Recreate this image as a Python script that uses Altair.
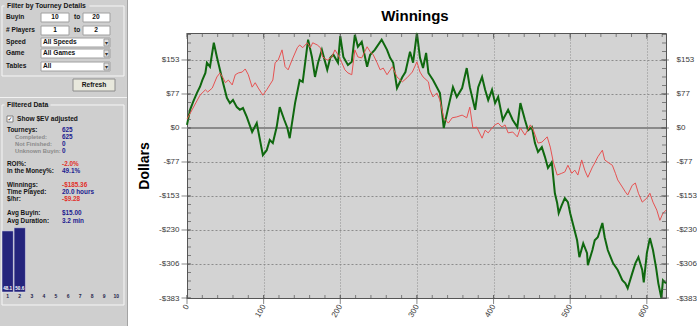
import altair as alt
import pandas as pd

# ---------------- values ----------------
green_t = [0, 4, 8, 13, 17, 20, 24, 26, 30, 35, 39, 43, 47, 52, 56, 60, 65, 69, 73, 78,
           85, 91, 99, 104, 108, 112, 117, 121, 127, 131, 134, 141, 147, 151, 158, 163, 167, 171, 176, 183,
           187, 191, 197, 200, 204, 210, 215, 219, 223, 228, 235, 239, 245, 254, 261, 265, 269, 274, 281, 285,
           291, 295, 300, 304, 308, 312, 315, 321, 326, 330, 335, 341, 347, 352, 359, 365, 369, 376, 380, 385,
           389, 393, 398, 402, 406, 412, 419, 425, 431, 435, 441, 445, 450, 454, 458, 463, 467, 471, 476, 480,
           483, 485, 489, 493, 497, 500, 504, 509, 512, 517, 522, 523, 529, 532, 536, 542, 545, 549, 556, 562,
           568, 572, 575, 581, 585, 589, 594, 596, 600, 604, 608, 612, 615, 619, 621, 625]
green_v = [7, 41, 59, 79, 93, 108, 124, 147, 138, 192, 160, 131, 102, 68, 56, 63, 47, 41, 45, 25,
           -9, 11, -61, -50, -27, -34, 2, 47, 18, 0, -23, 56, 108, 104, 199, 160, 115, 147, 176, 131,
           158, 165, 147, 207, 160, 142, 149, 210, 183, 194, 138, 165, 176, 199, 176, 158, 147, 90, 115, 126,
           172, 147, 214, 158, 135, 169, 124, 108, 92, 79, 0, 47, 92, 70, 90, 135, 92, 41, 92, 115,
           86, 63, 86, 56, 70, 18, 41, 18, 2, 56, 18, -5, 2, -34, -54, -43, -65, -90, -77, -147,
           -169, -192, -174, -158, -167, -192, -219, -253, -291, -260, -282, -309, -275, -253, -246, -214, -246, -275, -305, -320,
           -343, -350, -361, -327, -305, -291, -320, -348, -282, -248, -275, -314, -350, -383, -343, -350]

red_t = [0, 17, 24, 27, 33, 39, 43, 47, 50, 54, 59, 63, 67, 72, 76, 80, 85, 89, 93, 99,
         104, 108, 112, 115, 119, 124, 128, 132, 137, 144, 147, 151, 157, 161, 164, 170, 174, 177, 183, 189,
         193, 197, 202, 206, 210, 215, 219, 223, 228, 235, 239, 243, 248, 252, 256, 261, 268, 274, 281, 287,
         294, 300, 304, 308, 315, 317, 321, 326, 330, 335, 341, 346, 352, 359, 365, 369, 373, 378, 385, 389,
         393, 398, 402, 406, 411, 415, 419, 425, 431, 435, 441, 448, 452, 458, 463, 470, 474, 478, 483, 489,
         493, 497, 502, 506, 510, 515, 519, 523, 529, 532, 536, 542, 545, 549, 555, 559, 562, 568, 572, 575,
         581, 585, 589, 594, 600, 604, 608, 613, 617, 621, 625]
red_v = [20, 74, 86, 81, 90, 115, 124, 113, 102, 108, 97, 120, 124, 126, 133, 120, 92, 102, 90, 74,
         86, 97, 108, 147, 153, 176, 138, 131, 153, 181, 187, 181, 192, 181, 192, 187, 181, 160, 153, 160,
         176, 165, 147, 131, 124, 120, 176, 160, 158, 183, 172, 165, 147, 131, 135, 120, 138, 115, 104, 113,
         126, 149, 126, 115, 104, 86, 70, 79, 63, 23, 11, 23, 25, 29, 23, 47, 0, 2, -23, -5,
         -11, 0, 7, 11, 2, 7, -11, -9, -20, 0, -16, 7, -5, -34, -32, -20, -43, -77, -106, -102,
         -99, -84, -102, -95, -106, -72, -95, -111, -88, -79, -65, -50, -72, -77, -84, -102, -117, -133, -144, -151,
         -129, -124, -147, -167, -158, -147, -167, -185, -208, -192, -185.36]

y_tick_values = [-383, -306.4, -229.8, -153.2, -76.6, 0, 76.6, 153.2]
x_tick_values = [0, 100, 200, 300, 400, 500, 600]
x_minor_values = list(range(0, 625, 20))
y_minor_values = [round(-383 + 19.15 * k, 2) for k in range(32)]

finish_places = [str(i) for i in range(1, 11)]
finish_bar_places = ['1', '2']
finish_bar_pct = [48.1, 50.6]

filter_labels = ['Buyin', '# Players', 'Speed', 'Game', 'Tables']
input_values = ['10', '20', '1', '2']
dropdown_values = ['All Speeds', 'All Games', 'All']
stat_labels = ['Tourneys:', 'Completed:', 'Not Finished:', 'Unknown Buyin:', 'ROI%:', 'In the Money%:',
               'Winnings:', 'Time Played:', '$/hr:', 'Avg Buyin:', 'Avg Duration:']
stat_values = ['625', '625', '0', '0', '-2.0%', '49.1%', '-$185.36', '20.0 hours', '-$9.28', '$15.00', '3.2 min']
stat_value_kind = ['b', 'b', 'b', 'b', 'r', 'b', 'r', 'b', 'r', 'b', 'b']
stat_label_kind = ['k', 'g', 'g', 'g', 'k', 'k', 'k', 'k', 'k', 'k', 'k']

# ---------------- layout / style ----------------
OX, OY = 187, 33          # page position of the plot origin
W, H = 479, 265
FONT = 'Liberation Sans'
INK = {'k': '#141414', 'g': '#8a8a8a', 'b': '#1c1c90', 'r': '#e2302a'}
AX = '#555555'
LABEL_EXPR = "(datum.value < 0 ? '-' : '') + '$' + format(abs(datum.value), '.0f')"

# panel widgets (page pixels)
filter_y = [17, 30, 42, 53, 66]
input_pos = [(55, 17), (96, 17), (55, 30), (96, 30)]
dropdown_y = [42, 53, 66]
stat_y = [130, 137, 144, 151, 164, 171, 185, 192, 199, 213, 221]
stat_x = [7, 15, 15, 15, 7, 7, 7, 7, 7, 7, 7]

texts = []
def add(t, x, y, color=INK['k'], size=6.6, grp='l'):
    texts.append(dict(text=t, x=x - OX, y=y - OY, color=color, size=size, grp=grp))

add('Filter by Tourney Details', 7, 6, size=6.8)
for lab, y in zip(filter_labels, filter_y):
    add(lab, 6, y)
add('to', 74, 17)
add('to', 74, 30)
for v, (x, y) in zip(input_values, input_pos):
    add(v, x, y, grp='c')
for v, y in zip(dropdown_values, dropdown_y):
    add(v, 43, y)
add('Refresh', 94, 85, grp='c')
add('Filtered Data', 7, 105, size=6.8)
add('Show $EV adjusted', 17, 119)
for lab, val, y, x, lk, vk in zip(stat_labels, stat_values, stat_y, stat_x, stat_label_kind, stat_value_kind):
    add(lab, x, y, INK[lk], size=(5.8 if lk == 'g' else 6.4))
    add(val, 62, y, INK[vk], size=6.4)
add('\u2713', 10, 119, size=6, grp='g')
for y in dropdown_y:
    add('\u25be', 106.5, y + 0.5, color='#333333', size=6, grp='g')
tdf = pd.DataFrame(texts)

PANEL = '#cfcfcf'
bg_rects = [(0, 0, 127, 326, PANEL), (127, 0, 128, 326, '#a3a3a3'), (0, 97, 127, 98, '#f2f2f2')]
framed = [
    (2, 6, 124, 76, PANEL, '#f6f6f6'),
    (5, 2, 89, 10, PANEL, PANEL),
    (41, 13, 69, 22, '#ffffff', '#a0a0a0'), (83, 13, 110, 22, '#ffffff', '#a0a0a0'),
    (41, 26, 69, 35, '#ffffff', '#a0a0a0'), (83, 26, 110, 35, '#ffffff', '#a0a0a0'),
    (41, 38, 110, 47, '#ffffff', '#a0a0a0'), (41, 49, 110, 58, '#ffffff', '#a0a0a0'),
    (41, 62, 110, 71, '#ffffff', '#a0a0a0'),
    (104, 39, 109, 46, '#e2e2e2', '#9a9a9a'), (104, 50, 109, 57, '#e2e2e2', '#9a9a9a'),
    (104, 63, 109, 70, '#e2e2e2', '#9a9a9a'),
    (73, 79, 115, 91, '#e8e8dc', '#8c8c8c'),
    (2, 105, 124, 305, PANEL, '#f6f6f6'),
    (5, 101, 50, 109, PANEL, PANEL),
    (7, 116, 13, 122, '#ffffff', '#808080'),
]
bdf = pd.DataFrame([dict(x1=a - OX, x2=c - OX, y1=b - OY, y2=d - OY, fill=f) for a, b, c, d, f in bg_rects])
fdf = pd.DataFrame([dict(x1=a - OX, x2=c - OX, y1=b - OY, y2=d - OY, fill=f, stroke=s) for a, b, c, d, f, s in framed])

def rect_layer(df, stroked):
    enc = dict(x=alt.X('x1:Q', scale=None, axis=None), x2='x2:Q',
               y=alt.Y('y1:Q', scale=None, axis=None), y2='y2:Q',
               fill=alt.Fill('fill:N', scale=None, legend=None))
    if stroked:
        enc['stroke'] = alt.Stroke('stroke:N', scale=None, legend=None)
        return alt.Chart(df).mark_rect(strokeWidth=1).encode(**enc)
    return alt.Chart(df).mark_rect().encode(**enc)

def text_layer(grp, align, font, weight):
    return alt.Chart(tdf[tdf.grp == grp]).mark_text(
        align=align, baseline='middle', font=font, fontWeight=weight).encode(
        x=alt.X('x:Q', scale=None, axis=None), y=alt.Y('y:Q', scale=None, axis=None),
        text='text:N', color=alt.Color('color:N', scale=None, legend=None),
        size=alt.Size('size:Q', scale=None, legend=None))

panel_layers = [rect_layer(bdf, False), rect_layer(fdf, True),
                text_layer('l', 'left', FONT, 'bold'), text_layer('c', 'center', FONT, 'bold'),
                text_layer('g', 'center', 'DejaVu Sans', 'normal')]

# finish histogram inside the panel
hx = alt.Scale(type='band', domain=finish_places, range=[2 - OX, 122 - OX], paddingInner=0.06, paddingOuter=0)
hy = alt.Scale(domain=[0, 100], range=[292 - OY, 165 - OY], nice=False)
hbar_df = pd.DataFrame({'place': finish_bar_places, 'pct': finish_bar_pct})
hbar_df['lab'] = [f'{p:.1f}' for p in finish_bar_pct]
hbars = alt.Chart(hbar_df).mark_bar(color='#24247c', stroke='#e8e8f4', strokeWidth=0.5).encode(
    x=alt.X('place:O', scale=hx, axis=None), y=alt.Y('pct:Q', scale=hy, axis=None))
hvals = alt.Chart(hbar_df).mark_text(color='#ffffff', fontSize=4.6, font=FONT, fontWeight='bold',
                                     baseline='middle').encode(
    x=alt.X('place:O', scale=hx, axis=None), y=alt.value(289 - OY), text='lab:N')
hlab = alt.Chart(pd.DataFrame({'place': finish_places})).mark_text(
    color='#23234a', fontSize=5, font=FONT, fontWeight='bold', baseline='middle').encode(
    x=alt.X('place:O', scale=hx, axis=None), y=alt.value(296 - OY), text='place:N')

# ---------------- main chart ----------------
xs = alt.Scale(domain=[0, 625], nice=False, zero=False)
ys = alt.Scale(domain=[-383, 214], nice=False, zero=False)

gdf = pd.DataFrame({'t': green_t, 'v': green_v})
rdf = pd.DataFrame({'t': red_t, 'v': red_v})

x_axis = alt.Axis(values=x_tick_values, labelAngle=300, labelAlign='right', labelBaseline='middle',
                  labelFont=FONT, labelFontSize=8, labelColor='#3a3a3a', labelPadding=3,
                  tickSize=4, tickOpacity=0, domainColor=AX, grid=True, gridColor='#8c8c8c',
                  gridDash=[1, 2], title=None, orient='bottom')
y_axis = alt.Axis(values=y_tick_values, labelExpr=LABEL_EXPR, labelFont=FONT, labelFontSize=8,
                  labelColor='#3a3a3a', labelPadding=4, tickSize=4, tickOpacity=0, domainColor=AX,
                  grid=True, gridColor='#8c8c8c', gridDash=[2, 2], title='Dollars', titleFont=FONT,
                  titleFontSize=14, titleFontWeight='bold', titleColor='#000000', titlePadding=7,
                  orient='left')
y_axis_r = alt.Axis(values=y_tick_values, labelExpr=LABEL_EXPR, labelFont=FONT, labelFontSize=8,
                    labelColor='#3a3a3a', labelPadding=6, tickSize=4, tickOpacity=0, domainColor=AX,
                    grid=False, title=None, orient='right')
x_axis_t = alt.Axis(orient='top', labels=False, ticks=False, grid=False, title=None, domainColor=AX)

zero = alt.Chart(pd.DataFrame({'v': [0]})).mark_rule(color='#8a8a8a', strokeWidth=2).encode(
    y=alt.Y('v:Q', scale=ys, axis=None))
green = alt.Chart(gdf).mark_line(color='#0f680f', strokeWidth=2).encode(
    x=alt.X('t:Q', scale=xs, axis=x_axis), y=alt.Y('v:Q', scale=ys, axis=y_axis))
red = alt.Chart(rdf).mark_line(color='#e65252', strokeWidth=1).encode(
    x=alt.X('t:Q', scale=xs, axis=None), y=alt.Y('v:Q', scale=ys, axis=None))

ymaj = pd.DataFrame({'v': y_tick_values})
ymin = pd.DataFrame({'v': y_minor_values})
xmaj = pd.DataFrame({'t': x_tick_values})
xmin = pd.DataFrame({'t': x_minor_values})

def yticks(df, xpos, size, axis=None):
    return alt.Chart(df).mark_tick(orient='horizontal', size=size, thickness=1, color=AX).encode(
        y=alt.Y('v:Q', scale=ys, axis=axis), x=alt.value(xpos))

def xticks(df, ypos, size, axis=None):
    return alt.Chart(df).mark_tick(orient='vertical', size=size, thickness=1, color=AX).encode(
        x=alt.X('t:Q', scale=xs, axis=axis), y=alt.value(ypos))

main = alt.layer(
    zero, green, red,
    yticks(ymaj, -1, 9), yticks(ymin, 2, 4),
    yticks(ymaj, W - 1, 8, y_axis_r), yticks(ymin, W - 2, 4),
    xticks(xmaj, H + 1.5, 9), xticks(xmin, H - 1, 4),
    xticks(xmaj, 3, 6, x_axis_t), xticks(xmin, 2, 4),
).resolve_axis(x='independent', y='independent')

title = alt.Chart(pd.DataFrame({'title': ['Winnings']})).mark_text(
    font=FONT, fontSize=15, fontWeight='bold', color='#000000', align='center',
    baseline='alphabetic').encode(x=alt.value(415 - OX), y=alt.value(21 - OY), text='title:N')

chart = alt.layer(*panel_layers, hbars, hvals, hlab, main, title).resolve_scale(
    x='independent', y='independent').properties(
    width=W, height=H, padding=0, background='#ffffff').configure_view(fill='#d3d3d3', strokeWidth=0)

chart.save('out.html', embed_options={'renderer': 'svg', 'actions': False})
